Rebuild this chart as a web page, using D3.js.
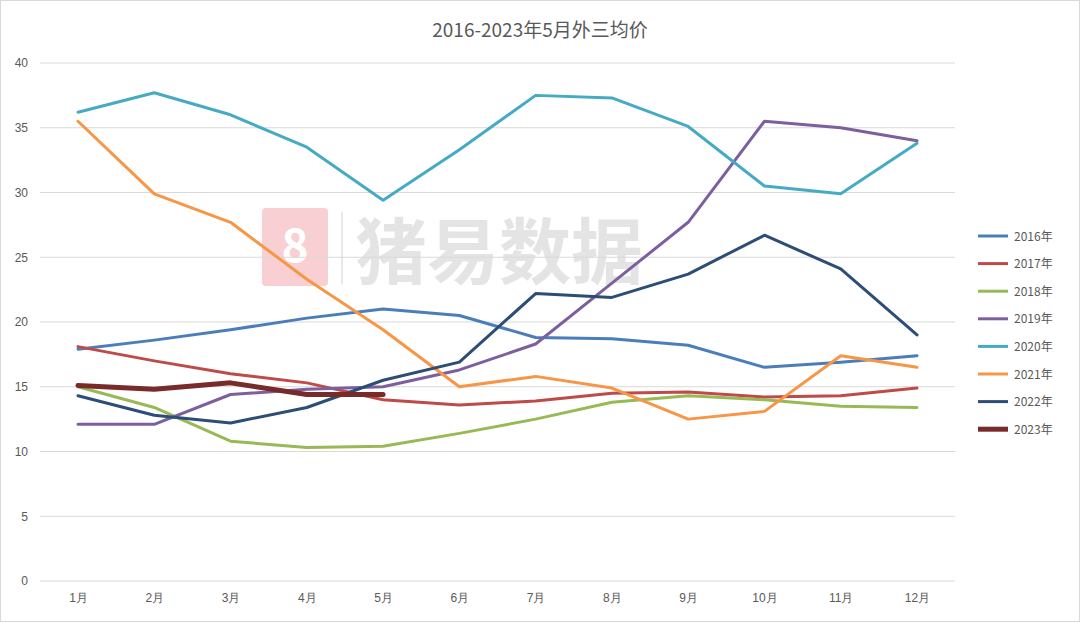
<!DOCTYPE html>
<html><head><meta charset="utf-8">
<script src="https://cdn.jsdelivr.net/npm/d3@7"></script>
<style>body{margin:0;background:#fff;font-family:"Noto Sans CJK SC","DejaVu Sans",sans-serif;}</style>
</head><body><div id="chart"></div>
<script>
var months = ["1月","2月","3月","4月","5月","6月","7月","8月","9月","10月","11月","12月"];
var seriesNames = ["2016年","2017年","2018年","2019年","2020年","2021年","2022年","2023年"];
var colors = ["#4a7ebb","#be4b48","#98b954","#7d5fa0","#46aac5","#f79646","#2c4d75","#772c2a"];
var v2016 = [17.9,18.6,19.4,20.3,21.0,20.5,18.8,18.7,18.2,16.5,16.9,17.4];
var v2017 = [18.1,17.0,16.0,15.3,14.0,13.6,13.9,14.5,14.6,14.2,14.3,14.9];
var v2018 = [15.0,13.4,10.8,10.3,10.4,11.4,12.5,13.8,14.3,14.0,13.5,13.4];
var v2019 = [12.1,12.1,14.4,14.8,15.0,16.3,18.3,23.0,27.7,35.5,35.0,34.0];
var v2020 = [36.2,37.7,36.0,33.5,29.4,33.3,37.5,37.3,35.1,30.5,29.9,33.8];
var v2021 = [35.5,29.9,27.7,23.3,19.4,15.0,15.8,14.9,12.5,13.1,17.4,16.5];
var v2022 = [14.3,12.8,12.2,13.4,15.5,16.9,22.2,21.9,23.7,26.7,24.1,19.0];
var v2023 = [15.1,14.8,15.3,14.4,14.4];
var yTicks = [0,5,10,15,20,25,30,35,40];
var allSeries = [v2016,v2017,v2018,v2019,v2020,v2021,v2022,v2023];

var W = 1080, H = 622;
var svg = d3.select("#chart").append("svg").attr("width", W).attr("height", H);
svg.append("rect").attr("x",0.5).attr("y",0.5).attr("width",W-1).attr("height",H-1)
  .attr("fill","#fff").attr("stroke","#d9d9d9");

var x = d3.scalePoint().domain(months).range([78, 917]);
var y = d3.scaleLinear().domain([0, 40]).range([581, 63]);

// watermark
var wm = svg.append("g").attr("opacity", 0.22);
wm.append("rect").attr("x",262).attr("y",208).attr("width",66).attr("height",78).attr("rx",4).attr("fill","#e0303a");
wm.append("text").attr("x",295).attr("y",262).attr("text-anchor","middle").attr("font-size",46)
  .attr("font-weight","bold").attr("fill","#fff").text("8");
wm.append("line").attr("x1",342).attr("x2",342).attr("y1",212).attr("y2",284).attr("stroke","#999").attr("stroke-width",2);
wm.append("text").attr("x",355).attr("y",278).attr("font-size",72).attr("font-weight","bold")
  .attr("fill","#888").text("猪易数据");

// grid
svg.append("g").selectAll("line").data(yTicks).enter().append("line")
  .attr("x1",40).attr("x2",955).attr("y1",d=>y(d)).attr("y2",d=>y(d))
  .attr("stroke","#d9d9d9").attr("stroke-width",1);

var yAxis = svg.append("g").attr("transform","translate(40,0)")
  .call(d3.axisLeft(y).tickValues(yTicks).tickSize(0).tickPadding(12));
yAxis.select(".domain").remove();
yAxis.selectAll("text").attr("font-size",12).attr("fill","#595959");

var xAxis = svg.append("g").attr("transform","translate(0,581)")
  .call(d3.axisBottom(x).tickSize(0).tickPadding(12));
xAxis.select(".domain").remove();
xAxis.selectAll("text").attr("font-size",12).attr("fill","#595959");

var line = d3.line().x((d,i)=>x(months[i])).y(d=>y(d));
allSeries.forEach(function(s, k){
  svg.append("path").datum(s).attr("d", line).attr("fill","none")
    .attr("stroke", colors[k]).attr("stroke-width", k==7 ? 5 : 3)
    .attr("stroke-linejoin","round").attr("stroke-linecap","round");
});

// legend
var lg = svg.append("g").selectAll("g").data(seriesNames).enter().append("g")
  .attr("transform",(d,i)=>"translate(978,"+(236+i*27.6)+")");
lg.append("line").attr("x1",0).attr("x2",30).attr("stroke",(d,i)=>colors[i])
  .attr("stroke-width",(d,i)=>i==7?5:3);
lg.append("text").attr("x",36).attr("y",4.5).attr("font-size",12).attr("fill","#595959").text(d=>d);

svg.append("text").attr("x",540).attr("y",37).attr("text-anchor","middle")
  .attr("font-size",19).attr("fill","#595959").text("2016-2023年5月外三均价");
</script></body></html>
